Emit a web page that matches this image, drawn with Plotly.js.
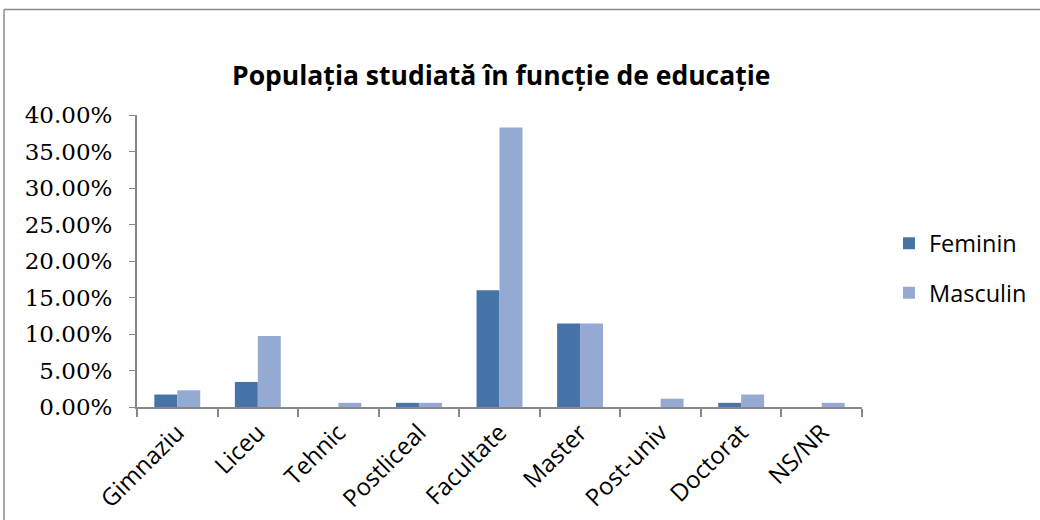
<!DOCTYPE html>
<html>
<head>
<meta charset="utf-8">
<script src="https://cdn.plot.ly/plotly-3.0.1.min.js"></script>
<style>
html,body{margin:0;padding:0;background:#fff;}
#chart{width:1040px;height:520px;}
</style>
</head>
<body>
<div id="chart"></div>
<script>
// Data (percent of studied population)
const categories = ["Gimnaziu", "Liceu", "Tehnic", "Postliceal", "Facultate", "Master", "Post-univ", "Doctorat", "NS/NR"];
const feminin = [1.71, 3.43, 0, 0.57, 16.00, 11.43, 0, 0.57, 0];
const masculin = [2.29, 9.71, 0.57, 0.57, 38.29, 11.43, 1.14, 1.71, 0.57];
const seriesNames = ["Feminin", "Masculin"];
const yTicks = [0, 5, 10, 15, 20, 25, 30, 35, 40];
const chartTitle = "Populația studiată în funcție de educație";

const traces = [
  {type: "bar", name: seriesNames[0], x: categories, y: feminin, legendgroup: "f",
   marker: {color: "#4673A8"}},
  {type: "bar", name: seriesNames[1], x: categories, y: masculin, legendgroup: "m",
   marker: {color: "#95AAD2"}}
];

const layout = {
  width: 1040, height: 520,
  margin: {l: 137, r: 178, t: 115, b: 113, autoexpand: false},
  paper_bgcolor: "#ffffff", plot_bgcolor: "#ffffff",
  barmode: "group", bargap: 0.43, bargroupgap: 0,
  title: {text: "<b>" + chartTitle + "</b>", x: 0.482, xanchor: "center", y: 0.855, yanchor: "middle",
          font: {family: "Open Sans", size: 26.5, color: "#000"}},
  xaxis: {type: "category", showline: true, linecolor: "#888888", linewidth: 2,
          ticks: "outside", tickson: "boundaries", ticklen: 8, tickcolor: "#888888", tickwidth: 2,
          tickangle: -45, tickfont: {family: "Open Sans", size: 24, color: "#000"},
          showgrid: false, zeroline: false, fixedrange: true, automargin: false},
  yaxis: {range: [0, 40], tickvals: yTicks, ticktext: yTicks.map(v => v.toFixed(2) + "%"),
          showline: true, linecolor: "#888888", linewidth: 2,
          ticks: "outside", ticklen: 6, tickcolor: "#888888", tickwidth: 1,
          tickfont: {family: "DejaVu Serif", size: 23, color: "#000"}, ticklabelstandoff: 12,
          showgrid: false, zeroline: false, fixedrange: true, automargin: false},
  legend: {xref: "container", yref: "container", x: 0.8548, xanchor: "left", y: 0.574, yanchor: "top",
           traceorder: "grouped", tracegroupgap: 16, itemwidth: 30,
           font: {family: "Open Sans", size: 23.5, color: "#000"}, bgcolor: "rgba(0,0,0,0)"},
  shapes: [
    {type: "line", xref: "paper", yref: "paper", x0: -0.1834, x1: 1.6, y0: 1.361, y1: 1.361,
     line: {color: "#8a8a8a", width: 1.5}},
    {type: "line", xref: "paper", yref: "paper", x0: -0.1834, x1: -0.1834, y0: 1.361, y1: -0.5,
     line: {color: "#8a8a8a", width: 1.5}}
  ],
  showlegend: true
};

Plotly.newPlot("chart", traces, layout, {displayModeBar: false, staticPlot: true});
</script>
</body>
</html>
